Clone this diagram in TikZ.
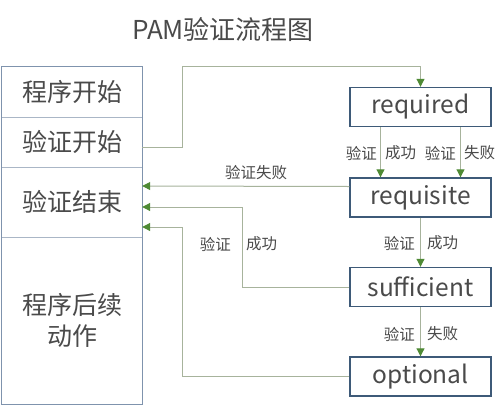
\documentclass[tikz,border=0pt]{standalone}
\usepackage{fontspec}
\setmainfont{Noto Sans CJK SC}
\usetikzlibrary{arrows.meta}
\definecolor{txt}{HTML}{4A4A4A}
\definecolor{boxc}{HTML}{3E5A78}
\definecolor{leftc}{HTML}{7F93AD}
\definecolor{divc}{HTML}{AAB6C6}
\definecolor{linec}{HTML}{A7B39C}
\definecolor{headc}{HTML}{4F8A35}
\begin{document}
\begin{tikzpicture}[x=1pt,y=-1pt,
  lcell/.style={draw=none,minimum width=140pt,inner sep=0pt,text=txt,
    font=\fontsize{25}{31}\selectfont,align=center},
  rbox/.style={draw=boxc,line width=1.4pt,minimum width=141pt,minimum height=39pt,
    inner sep=0pt,text=txt,font=\fontsize{24.5}{27}\selectfont},
  conn/.style={draw=linec,line width=1pt,-{Triangle[length=8pt,width=8pt,color=headc]}},
  lbl/.style={text=txt,font=\fontsize{15.5}{17}\selectfont,inner sep=0pt}]
\useasboundingbox[fill=white] (0,0) rectangle (500,410);
% title
\node[text=txt,font=\fontsize{26}{30}\selectfont] (title) at (223,30) {PAM验证流程图};
% left column
\node[lcell,minimum height=50pt] (n1) at (72,92) {程序开始};
\node[lcell,minimum height=50pt] (n2) at (72,142) {验证开始};
\node[lcell,minimum height=70pt] (n3) at (72,202) {验证结束};
\node[lcell,minimum height=167pt] (n4) at (72,320.5) {程序后续\\动作};
\draw[divc,line width=0.9pt] (n1.south west) -- (n1.south east);
\draw[divc,line width=0.9pt] (n2.south west) -- (n2.south east);
\draw[divc,line width=0.9pt] (n3.south west) -- (n3.south east);
\draw[leftc,line width=1.3pt] (n1.north west) rectangle (n4.south east);
% right column
\node[rbox] (req) at (420.5,107) {required};
\node[rbox] (rqs) at (420.5,197.5) {requisite};
\node[rbox] (suf) at (420.5,287) {sufficient};
\node[rbox] (opt) at (420.5,376.5) {optional};
% connectors
\draw[conn] ([yshift=-5pt]n2.east) -| (182,66) -| (req.north);
\draw[conn] ([xshift=-40pt]req.south) -- ([xshift=-40pt]rqs.north);
\draw[conn] ([xshift=40pt]req.south) -- ([xshift=40pt]rqs.north);
\draw[conn] ([yshift=11pt]rqs.west) -- ([yshift=16pt]n3.east);
\draw[conn] (suf.west) -| (242,207) -- ([yshift=-5pt]n3.east);
\draw[conn] (opt.west) -| (182,227) -- ([yshift=-25pt]n3.east);
\draw[conn] (rqs.south) -- (suf.north);
\draw[conn] (suf.south) -- (opt.north);
% labels
\node[lbl,anchor=east] (l1) at (377,153) {验证};
\node[lbl,anchor=west] (l2) at (385,153) {成功};
\node[lbl,anchor=east] (l3) at (456,153) {验证};
\node[lbl,anchor=west] (l4) at (464,153) {失败};
\node[lbl] (l5) at (256,173) {验证失败};
\node[lbl,anchor=east] (l6) at (231,244) {验证};
\node[lbl,anchor=west] (l7) at (246,244) {成功};
\node[lbl,anchor=east] (l8) at (415,243) {验证};
\node[lbl,anchor=west] (l9) at (427,243) {成功};
\node[lbl,anchor=east] (l10) at (415,334) {验证};
\node[lbl,anchor=west] (l11) at (427,334) {失败};
\end{tikzpicture}
\end{document}
